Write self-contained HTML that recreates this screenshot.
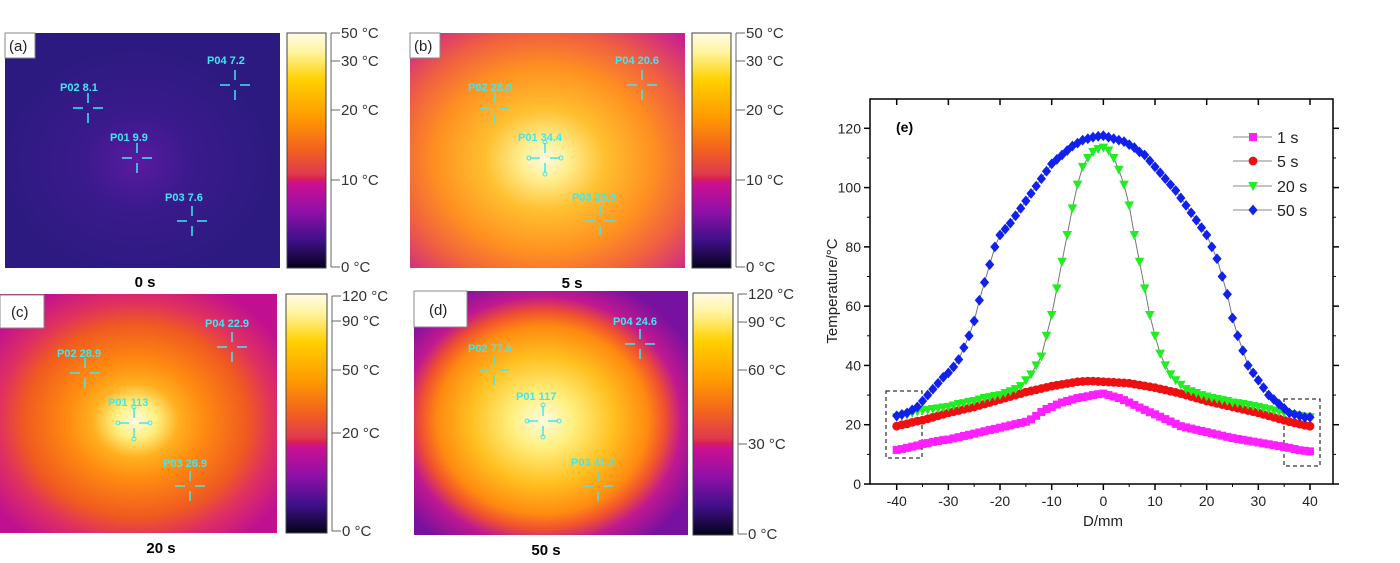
<!DOCTYPE html>
<html><head><meta charset="utf-8">
<style>
html,body{margin:0;padding:0;background:#fff;}
svg{display:block;font-family:"Liberation Sans",sans-serif;}
.pl{fill:#3ee8f0;font-weight:bold;font-size:11px;}
.cb{fill:#333;font-size:15px;}
.cap{fill:#000;font-weight:bold;font-size:15px;}
.tk{fill:#222;font-size:14px;}
</style></head>
<body>
<svg id="fig" width="1400" height="563" viewBox="0 0 1400 563">
<defs>
<linearGradient id="cbar" x1="0" y1="0" x2="0" y2="1">
<stop offset="0" stop-color="#fffbe8"/><stop offset="0.08" stop-color="#fff4a0"/>
<stop offset="0.2" stop-color="#ffd000"/><stop offset="0.36" stop-color="#ff9a00"/>
<stop offset="0.5" stop-color="#f26020"/><stop offset="0.6" stop-color="#e03a50"/>
<stop offset="0.62" stop-color="#d82050"/><stop offset="0.64" stop-color="#cc1090"/>
<stop offset="0.76" stop-color="#9010a8"/><stop offset="0.88" stop-color="#40108a"/>
<stop offset="1" stop-color="#05031a"/></linearGradient>
<radialGradient id="ga" cx="0.48" cy="0.55" r="0.5">
<stop offset="0" stop-color="#5a1aa0"/><stop offset="0.4" stop-color="#3a1a8c"/><stop offset="1" stop-color="#2c1a80"/></radialGradient>
<radialGradient id="gb" cx="0.49" cy="0.54" r="0.72">
<stop offset="0" stop-color="#fffbe0"/><stop offset="0.12" stop-color="#ffee90"/>
<stop offset="0.3" stop-color="#ffc030"/><stop offset="0.55" stop-color="#ff9020"/>
<stop offset="0.75" stop-color="#f06040"/><stop offset="1" stop-color="#c82090"/></radialGradient>
<radialGradient id="gc" cx="0.49" cy="0.53" r="0.62">
<stop offset="0" stop-color="#fffce0"/><stop offset="0.12" stop-color="#fff080"/>
<stop offset="0.25" stop-color="#ffb020"/><stop offset="0.4" stop-color="#ff8a10"/>
<stop offset="0.65" stop-color="#f05a20"/><stop offset="0.8" stop-color="#e03060"/><stop offset="1" stop-color="#c01090"/></radialGradient>
<radialGradient id="gd" cx="0.47" cy="0.53" r="0.62">
<stop offset="0" stop-color="#fffce0"/><stop offset="0.18" stop-color="#fff080"/>
<stop offset="0.42" stop-color="#ffc020"/><stop offset="0.62" stop-color="#ff8a10"/>
<stop offset="0.72" stop-color="#f05030"/><stop offset="0.82" stop-color="#c01890"/><stop offset="1" stop-color="#7810a0"/></radialGradient>
</defs>

<g>
<rect x="5" y="33" width="275" height="235" fill="url(#ga)"/>
<rect x="5" y="33" width="30" height="25" fill="#fff" stroke="#888"/>
<text x="9" y="51" font-size="15" fill="#222">(a)</text>
<rect x="287" y="33" width="39" height="235" fill="url(#cbar)" stroke="#444"/>
<text class="cap" x="145" y="287" text-anchor="middle">0 s</text>
</g>
<g>
<rect x="410" y="33" width="275" height="235" fill="url(#gb)"/>
<rect x="410" y="33" width="30" height="25" fill="#fff" stroke="#888"/>
<text x="414" y="51" font-size="15" fill="#222">(b)</text>
<rect x="692" y="33" width="39" height="235" fill="url(#cbar)" stroke="#444"/>
<text class="cap" x="572" y="288" text-anchor="middle">5 s</text>
</g>
<g>
<rect x="0" y="294" width="277" height="239" fill="url(#gc)"/>
<rect x="0" y="295" width="44" height="33" fill="#fff" stroke="#888"/>
<text x="11" y="317" font-size="15" fill="#222">(c)</text>
<rect x="286" y="294" width="41" height="239" fill="url(#cbar)" stroke="#444"/>
<text class="cap" x="161" y="553" text-anchor="middle">20 s</text>
</g>
<g>
<rect x="414" y="291" width="274" height="244" fill="url(#gd)"/>
<rect x="414" y="291" width="53" height="36" fill="#fff" stroke="#888"/>
<text x="429" y="315" font-size="15" fill="#222">(d)</text>
<rect x="693" y="293" width="40" height="242" fill="url(#cbar)" stroke="#444"/>
<text class="cap" x="546" y="555" text-anchor="middle">50 s</text>
</g>
<g id="overlay"></g>
<g id="chart"></g>
</svg>
<script>
// ===== chart data (D/mm from -40 to 40 step 1) =====
const dStart = -40;
const dStep = 1;
const series1s = [11.5,11.8,12.2,12.6,13,13.5,13.8,14.2,14.5,14.8,15,15.4,15.8,16.2,16.6,17,17.4,17.8,18.2,18.6,19,19.4,19.8,20.2,20.6,21,21.8,23,24.3,25.3,26,26.8,27.5,28,28.5,29,29.3,29.6,30,30.3,30.5,30,29.5,29,28.3,27.5,26.7,25.8,25,24.2,23.5,22.7,21.9,21.1,20.3,19.5,19.1,18.7,18.3,17.9,17.5,17.1,16.7,16.3,15.9,15.5,15.2,14.9,14.6,14.3,14,13.7,13.4,13.1,12.8,12.5,12.2,11.8,11.4,11.2,11];
const series5s = [19.5,20,20.3,20.8,21.2,21.5,22,22.5,23,23.5,24,24.4,24.8,25.2,25.6,26,26.5,27,27.5,28,28.5,29,29.5,30,30.5,31,31.4,31.8,32.2,32.6,33,33.3,33.6,33.9,34.2,34.5,34.6,34.7,34.7,34.6,34.5,34.4,34.3,34.2,34.1,34,33.7,33.4,33.1,32.8,32.5,32.1,31.7,31.3,30.9,30.5,30,29.5,29,28.5,28,27.6,27.2,26.8,26.4,26,25.6,25.2,24.8,24.4,24,23.5,23,22.5,22,21.5,21,20.6,20.2,19.8,19.5];
const series20s = [22.5,23,23.5,24,24.5,24.8,25,25.3,25.5,25.8,26,26.5,27,27.3,27.7,28,28.5,29,29.3,29.7,30,30.7,31.3,32,33,35,37,40,43,50,57,66,75,84,93,101,107,110,112,113,113.5,112.5,110,106,101,94,84,75,66,57,50,44,40,37,35,33.5,32,31.3,30.7,30,29.5,29,28.7,28.3,28,27.5,27.3,27,26.7,26.3,26,25.6,25.2,24.8,24.4,24,23.6,23.3,23,22.7,22.5];
const series50s = [23,23.5,24,25,26,28,30,32,34,36,37.5,39.5,42,46,50,55,62,68,74,80,84,86,88,90.5,93,95.5,98,100.5,103,105.5,108,109.5,111,112.5,114,115,116,116.5,117,117.3,117.5,117,116.5,116,115.5,114.5,113.5,112,111,109,107,105,103,101,99,96.5,94,91.5,89,86.5,84,80,76,70,64,56,50,45,40,37.5,35,32.5,30,28.5,27,25.5,24,23.5,23,22.5,22.5];
const seriesNames = ["1 s","5 s","20 s","50 s"];
const xTicks = [-40,-30,-20,-10,0,10,20,30,40];
const yTicks = [0,20,40,60,80,100,120];

const NS="http://www.w3.org/2000/svg";
function mk(tag,attrs,parent){const e=document.createElementNS(NS,tag);for(const k in attrs)e.setAttribute(k,attrs[k]);parent.appendChild(e);return e;}

// ===== overlays on thermal images =====
const ov=document.getElementById('overlay');
const points=[
 ["P04 7.2",207,64,235,85,0],["P02 8.1",60,91,88,108,0],["P01  9.9",110,141,137,158,0],["P03 7.6",165,201,192,221,0],
 ["P02 28.0",468,91,495,108,0],["P04 20.6",615,64,642,85,0],["P01 34.4",518,141,545,158,1],["P03 25.9",572,201,600,221,0],
 ["P04 22.9",205,327,232,347,0],["P02 28.9",57,357,85,373,0],["P01 113",108,406,134,423,1],["P03 26.9",163,467,190,486,0],
 ["P04 24.6",613,325,640,344,0],["P02 77.6",468,352,494,370,0],["P01 117",516,400,543,421,1],["P03 41.2",571,466,598,486,0]
];
points.forEach(p=>{
 const g=mk('g',{},ov);
 
 
 const t=mk('text',{x:p[1],y:p[2],class:'pl'},g);t.textContent=p[0];
 const cx=p[3],cy=p[4],c="#3ee8f0";
 [[cx,cy-15,cx,cy-5],[cx,cy+5,cx,cy+15],[cx-15,cy,cx-5,cy],[cx+5,cy,cx+15,cy]].forEach(l=>mk('line',{x1:l[0],y1:l[1],x2:l[2],y2:l[3],stroke:c,'stroke-width':1.5},g));
 if(p[5]){[[cx,cy-16],[cx,cy+16],[cx-16,cy],[cx+16,cy]].forEach(q=>mk('circle',{cx:q[0],cy:q[1],r:2,fill:'none',stroke:c,'stroke-width':1},g));}
});
const scales=[
 {x:328,labels:[["50 °C",33],["30 °C",61],["20 °C",110],["10 °C",180],["0 °C",267]]},
 {x:733,labels:[["50 °C",33],["30 °C",61],["20 °C",110],["10 °C",180],["0 °C",267]]},
 {x:329,labels:[["120 °C",296],["90 °C",321],["50 °C",370],["20 °C",433],["0 °C",531]]},
 {x:735,labels:[["120 °C",294],["90 °C",322],["60 °C",370],["30 °C",444],["0 °C",534]]}
];
scales.forEach(s=>{
 const g=mk('g',{},ov);
 
 
 const y0=s.labels[0][1],y1=s.labels[s.labels.length-1][1];
 mk('line',{x1:s.x+3,y1:y0,x2:s.x+3,y2:y1,stroke:'#666','stroke-width':1},g);
 s.labels.forEach(l=>{
  mk('line',{x1:s.x+3,y1:l[1],x2:s.x+12,y2:l[1],stroke:'#666','stroke-width':1},g);
  const t=mk('text',{x:s.x+13,y:l[1]+5,class:'cb'},g);t.textContent=l[0];
 });
});

// ===== chart =====
const ch=document.getElementById('chart');
const L=870,R=1333,T=99,B=484;
const X0=896.7,X1=1310,Y0=484,Y1=128.3;
function xs(v){return X0+(v+40)*(X1-X0)/80;}
function ys(v){return Y0-v*(Y0-Y1)/120;}
mk('rect',{x:L,y:T,width:R-L,height:B-T,fill:'none',stroke:'#000','stroke-width':1.5},ch);
xTicks.forEach(v=>{
 const x=xs(v);
 mk('line',{x1:x,y1:B,x2:x,y2:B+6,stroke:'#000','stroke-width':1.5},ch);
 mk('line',{x1:x,y1:T,x2:x,y2:T+6,stroke:'#000','stroke-width':1.5},ch);
 const t=mk('text',{x:x,y:B+22,'text-anchor':'middle',class:'tk'},ch);
 
 
 t.textContent=v;
});
for(let v=-35;v<=35;v+=10){const x=xs(v);mk('line',{x1:x,y1:B,x2:x,y2:B+3,stroke:'#000'},ch);}
yTicks.forEach(v=>{
 const y=ys(v);
 mk('line',{x1:L-6,y1:y,x2:L,y2:y,stroke:'#000','stroke-width':1.5},ch);
 mk('line',{x1:R,y1:y,x2:R+6,y2:y,stroke:'#000','stroke-width':1.5},ch);
 const t=mk('text',{x:L-9,y:y+5,'text-anchor':'end',class:'tk'},ch);
 
 
 t.textContent=v;
});
for(let v=10;v<=110;v+=20){const y=ys(v);mk('line',{x1:L-3,y1:y,x2:L,y2:y,stroke:'#000'},ch);mk('line',{x1:R,y1:y,x2:R+3,y2:y,stroke:'#000'},ch);}
const xt=mk('text',{x:1103,y:526,'text-anchor':'middle','font-size':15,fill:'#222'},ch);


xt.textContent='D/mm';
const yt=mk('text',{x:0,y:0,'text-anchor':'middle','font-size':15,fill:'#222',transform:'translate(837,291) rotate(-90)'},ch);


yt.textContent='Temperature/°C';
const pe=mk('text',{x:896,y:132,'font-size':14,'font-weight':'bold',fill:'#000'},ch);


pe.textContent='(e)';
const b1=mk('rect',{x:886,y:391,width:36,height:67,fill:'none',stroke:'#000','stroke-dasharray':'4,3'},ch);


const b2=mk('rect',{x:1284,y:399,width:36,height:67,fill:'none',stroke:'#000','stroke-dasharray':'4,3'},ch);



function marker(g,type,x,y,col){
 const s=4;
 if(type==='sq')return mk('rect',{x:x-s,y:y-s,width:2*s,height:2*s,fill:col},g);
 if(type==='ci')return mk('circle',{cx:x,cy:y,r:s+0.4,fill:col},g);
 if(type==='tr')return mk('polygon',{points:`${x-s-0.8},${y-s} ${x+s+0.8},${y-s} ${x},${y+s+1}`,fill:col},g);
 return mk('polygon',{points:`${x},${y-s-1.4} ${x+s+0.6},${y} ${x},${y+s+1.4} ${x-s-0.6},${y}`,fill:col},g);
}
const allSeries=[series1s,series5s,series20s,series50s];
const cols=['#ff20ff','#ee1010','#20ee20','#1020ee'];
const types=['sq','ci','tr','di'];
const sNames=['series-1s','series-5s','series-20s','series-50s'];
allSeries.forEach((arr,i)=>{
 const g=mk('g',{},ch);
 
 
 let d='';
 arr.forEach((v,j)=>{d+=(j?'L':'M')+xs(dStart+j*dStep).toFixed(1)+','+ys(v).toFixed(1);});
 mk('path',{d:d,fill:'none',stroke:'#777','stroke-width':1},g);
 arr.forEach((v,j)=>{
  const m=marker(g,types[i],xs(dStart+j*dStep),ys(v),cols[i]);
  
  
 });
});
const lg=mk('g',{},ch);


const ly=[137,161,186,210];
seriesNames.forEach((n,i)=>{
 const e=mk('g',{},lg);
 
 
 mk('line',{x1:1233,y1:ly[i],x2:1272,y2:ly[i],stroke:'#888','stroke-width':1},e);
 marker(e,types[i],1253,ly[i],cols[i]);
 const t=mk('text',{x:1277,y:ly[i]+6,'font-size':16,fill:'#222'},e);
 t.textContent=n;
});
</script>
</body></html>
